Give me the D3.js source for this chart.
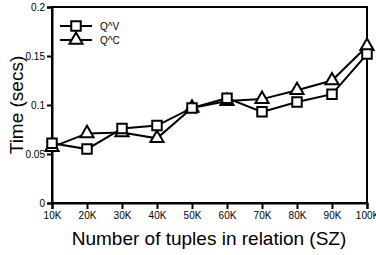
<!DOCTYPE html>
<html><head><meta charset="utf-8">
<script src="https://cdn.jsdelivr.net/npm/d3@7"></script>
<style>body{margin:0;background:#fff}svg{display:block}text{font-family:"Liberation Sans",Arial,sans-serif}</style>
</head><body><svg id="c" width="376" height="255"></svg>
<script>
const categories = ["10K","20K","30K","40K","50K","60K","70K","80K","90K","100K"];
const seriesQV = [0.061,0.055,0.076,0.079,0.097,0.107,0.093,0.103,0.111,0.152];
const seriesQC = [0.057,0.071,0.072,0.066,0.097,0.104,0.106,0.115,0.125,0.160];
const yTicks = [0,0.05,0.1,0.15,0.2];
const yTickLabels = ["0","0.05","0.1","0.15","0.2"];
const seriesNames = ["Q^V","Q^C"];

const svg = d3.select("#c");
const m = {l:52, r:9, t:7, b:52};
const W = 376, H = 255;
const x = d3.scalePoint().domain(categories).range([m.l, W-m.r]);
const y = d3.scaleLinear().domain([0,0.2]).range([H-m.b, m.t]);

// frame
svg.append("rect").attr("x",m.l).attr("y",m.t).attr("width",W-m.r-m.l).attr("height",H-m.b-m.t)
  .attr("fill","none").attr("stroke","#000").attr("stroke-width",2);

const xa = svg.append("g").attr("transform",`translate(0,${H-m.b})`)
  .call(d3.axisBottom(x).tickSize(6).tickPadding(3));
const ya = svg.append("g").attr("transform",`translate(${m.l},0)`)
  .call(d3.axisLeft(y).tickValues(yTicks).tickFormat((d,i)=>yTickLabels[i]).tickSize(5).tickPadding(2));
[xa,ya].forEach(a=>{
  a.select(".domain").attr("stroke-width",2);
  a.selectAll(".tick line").attr("stroke-width",2);
  a.selectAll("text").attr("font-size",10).attr("fill","#000");
});

const line = d3.line().x((d,i)=>x(categories[i])).y(d=>y(d));
const sq = d3.symbol().type(d3.symbolSquare).size(90);
const tri = d3.symbol().type(d3.symbolTriangle).size(75);

function drawSeries(vals, sym){
  svg.append("path").datum(vals).attr("d",line).attr("fill","none").attr("stroke","#000").attr("stroke-width",2);
  svg.append("g").selectAll("path").data(vals).join("path")
    .attr("d",sym).attr("transform",(d,i)=>`translate(${x(categories[i])},${y(d)})`)
    .attr("fill","#fff").attr("stroke","#000").attr("stroke-width",2);
}
drawSeries(seriesQC, tri);
drawSeries(seriesQV, sq);

// legend
const leg = [[sq,26],[tri,40]];
leg.forEach(([s,ly],i)=>{
  svg.append("line").attr("x1",60).attr("x2",92).attr("y1",ly).attr("y2",ly).attr("stroke","#000").attr("stroke-width",2);
  svg.append("path").attr("d",s).attr("transform",`translate(76,${ly})`).attr("fill","#fff").attr("stroke","#000").attr("stroke-width",2);
  svg.append("text").attr("x",100).attr("y",ly+4).attr("font-size",10).text(seriesNames[i]);
});

svg.append("text").attr("transform","translate(23,105) rotate(-90)").attr("text-anchor","middle")
  .attr("font-size",19).text("Time (secs)");
svg.append("text").attr("x",209).attr("y",245).attr("text-anchor","middle")
  .attr("font-size",19).text("Number of tuples in relation (SZ)");
</script></body></html>
